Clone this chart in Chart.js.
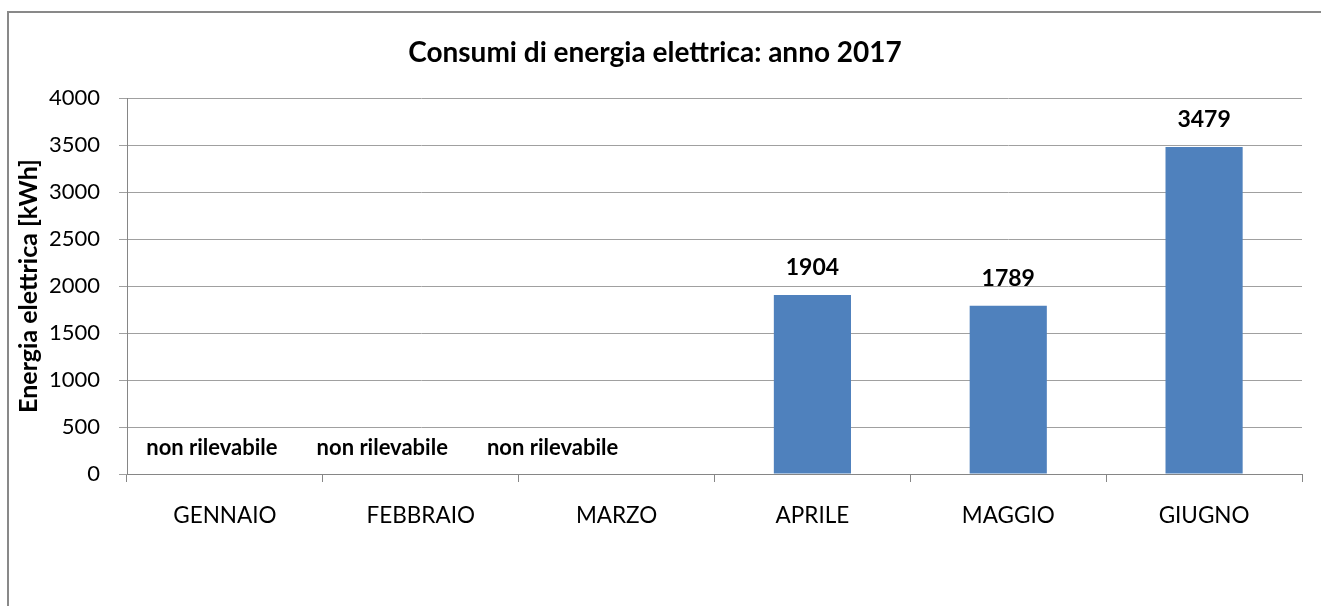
<!DOCTYPE html>
<html lang="it">
<head>
<meta charset="utf-8">
<title>Consumi di energia elettrica: anno 2017</title>
<script src="https://cdn.jsdelivr.net/npm/chart.js@4.4.1/dist/chart.umd.min.js"></script>
<style>
  html, body { margin: 0; padding: 0; background: #fff; }
  canvas { display: block; }
</style>
</head>
<body>
<canvas id="consumi" width="1321" height="606"></canvas>
<script>
'use strict';

// Monthly readings, kWh (null = meter reading not available)
var MESI = ['GENNAIO', 'FEBBRAIO', 'MARZO', 'APRILE', 'MAGGIO', 'GIUGNO'];
var CONSUMI_KWH = [null, null, null, 1904, 1789, 3479];
var Y_TICKS = [0, 500, 1000, 1500, 2000, 2500, 3000, 3500, 4000];
var NO_DATA_TEXT = 'non rilevabile';

var FONT = 'Lato, Carlito, Calibri, "Open Sans", sans-serif';
var AXIS_GREY = '#868686';
var GRID_GREY = '#a0a0a0';
var BAR_BLUE = '#4f81bd';

// Grey outline around the whole chart object
var framePlugin = {
  id: 'frame',
  beforeDraw: function (chart) {
    var ctx = chart.ctx;
    ctx.save();
    ctx.strokeStyle = '#898989';
    ctx.lineWidth = 2;
    ctx.strokeRect(8, 12, chart.width + 20, chart.height + 20);
    ctx.restore();
  }
};

// Value above each bar, "non rilevabile" where there is no reading.
// The missing-reading notes sit a little left of their month, drifting
// further left month by month.
var valueLabels = {
  id: 'valueLabels',
  afterDatasetsDraw: function (chart) {
    var ctx = chart.ctx;
    var meta = chart.getDatasetMeta(0);
    var xs = chart.scales.x, ys = chart.scales.y;
    var data = chart.data.datasets[0].data;
    ctx.save();
    ctx.fillStyle = '#000';
    ctx.textAlign = 'center';
    ctx.textBaseline = 'middle';
    data.forEach(function (v, i) {
      var x = xs.getPixelForValue(i);
      if (v === null) {
        ctx.font = 'bold 22px ' + FONT;
        ctx.fillText(NO_DATA_TEXT, x - 13 - 25.5 * i, ys.getPixelForValue(0) - 26);
      } else {
        ctx.font = 'bold 23px ' + FONT;
        ctx.fillText(String(v), x, meta.data[i].y - 27);
      }
    });
    ctx.restore();
  }
};

new Chart(document.getElementById('consumi'), {
  type: 'bar',
  data: {
    labels: MESI,
    datasets: [{
      data: CONSUMI_KWH,
      backgroundColor: BAR_BLUE,
      borderWidth: 0,
      barPercentage: 0.394,
      categoryPercentage: 1
    }]
  },
  plugins: [framePlugin, valueLabels],
  options: {
    responsive: false,
    animation: false,
    layout: { padding: { left: 8, right: 19, top: 0, bottom: 0 } },
    plugins: {
      legend: { display: false },
      tooltip: { enabled: false },
      title: {
        display: true,
        text: 'Consumi di energia elettrica: anno 2017',
        color: '#000',
        font: { family: FONT, size: 28, weight: 'bold' },
        padding: { top: 36, bottom: 28.4 }
      }
    },
    scales: {
      x: {
        grid: { offset: true, drawOnChartArea: false, drawTicks: true, tickLength: 8, color: AXIS_GREY },
        border: { color: AXIS_GREY, width: 1 },
        ticks: { color: '#000', padding: 20, font: { family: FONT, size: 22.5 } },
        afterFit: function (s) { s.height = 132; }
      },
      y: {
        min: 0,
        max: 4000,
        afterBuildTicks: function (s) {
          s.ticks = Y_TICKS.map(function (v) { return { value: v }; });
        },
        grid: { color: GRID_GREY, tickLength: 8 },
        border: { color: AXIS_GREY, width: 1 },
        ticks: {
          color: '#000',
          padding: 19,
          font: { family: FONT, size: 22 },
          callback: function (v) { return String(v); }
        },
        title: {
          display: true,
          text: 'Energia elettrica [kWh]',
          color: '#000',
          font: { family: FONT, size: 25, weight: 'bold' },
          padding: { top: 6, bottom: 0 }
        },
        afterFit: function (s) { s.width = 119; }
      }
    }
  }
});
</script>
</body>
</html>
